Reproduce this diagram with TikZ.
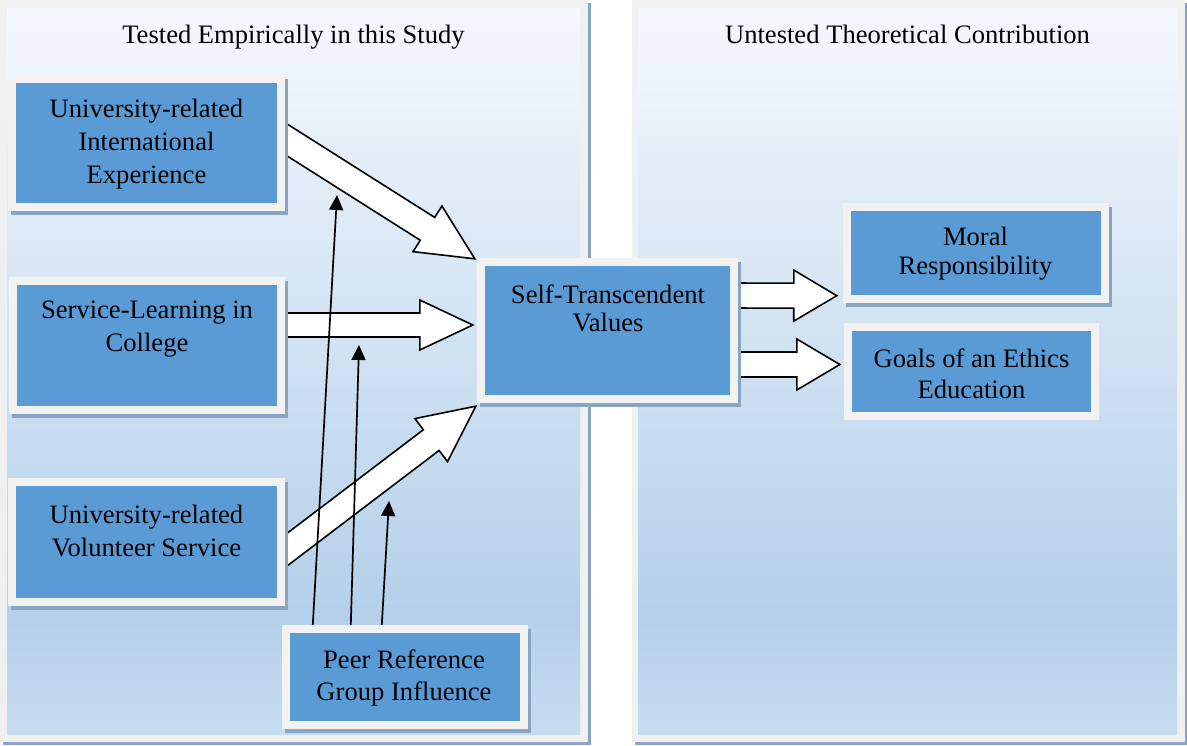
\documentclass[tikz,border=0pt]{standalone}
\usepackage{fontspec}
\setmainfont{Liberation Serif}
\usetikzlibrary{calc,shadows,arrows.meta}
\definecolor{boxblue}{HTML}{5B9BD5}
\definecolor{framegray}{HTML}{F2F2F2}
\definecolor{shadowc}{HTML}{8AA5C2}
\definecolor{panelgray}{HTML}{F0F0F0}
\definecolor{pantop}{HTML}{F5F8FD}
\definecolor{panlow}{HTML}{B4D0EA}
\definecolor{panbot}{HTML}{C7DCF0}
\pgfdeclareverticalshading{panelshade}{100bp}{color(0bp)=(panbot); color(25bp)=(panbot); color(33bp)=(panlow); color(75bp)=(pantop); color(100bp)=(pantop)}
\pgfdeclarelayer{bg}
\pgfdeclarelayer{mid}
\pgfsetlayers{bg,mid,main}
\newcommand\blockarrow[5]{%
  \coordinate (bah) at ($(#2)!#5!(#1)$);
  \draw[blockarr] ($(#1)!#3!90:(#2)$) -- ($(bah)!#3!90:(#2)$) -- ($(bah)!#4!90:(#2)$) -- (#2)
    -- ($(bah)!#4!-90:(#2)$) -- ($(bah)!#3!-90:(#2)$) -- ($(#1)!#3!-90:(#2)$) -- cycle;
}
\begin{document}
\begin{tikzpicture}[x=1pt,y=-1pt,
  font=\fontsize{26.6}{33}\selectfont,
  box/.style={fill=framegray, inner sep=0pt,
    path picture={\fill[boxblue] ([shift={(7.8pt,-7.8pt)}]path picture bounding box.north west) rectangle ([shift={(-7.8pt,7.8pt)}]path picture bounding box.south east);}},
  shadowbox/.style={box, drop shadow={shadow xshift=3pt, shadow yshift=-4pt, fill=shadowc, opacity=1}},
  txt/.style={align=center, inner sep=0pt, text=black},
  blockarr/.style={draw=black, fill=white, line width=1.6pt, line join=miter},
  infl/.style={line width=1.7pt, -{Triangle[length=15pt,width=14pt]}}]
\useasboundingbox (0,0) rectangle (1187,745);

\begin{pgfonlayer}{bg}
  % left panel
  \fill[shadowc] (3,3) rectangle (591,745);
  \fill[panelgray] (0,0) rectangle (588,742);
  \shade[shading=panelshade] (7,8) rectangle (580,734);
  % right panel
  \fill[shadowc] (635,3) rectangle (1187,745);
  \fill[panelgray] (632,0) rectangle (1185,742);
  \shade[shading=panelshade] (638,8) rectangle (1177,734);
\end{pgfonlayer}

\node[anchor=base, inner sep=0pt] (lefttitle) at (293.5,43.5) {Tested Empirically in this Study};
\node[anchor=base, inner sep=0pt] (righttitle) at (907.5,43.5) {Untested Theoretical Contribution};

% boxes
\node[shadowbox, minimum width=277pt, minimum height=136pt] (intl) at (146.5,143) {};
\node[txt] (intlt) at (146.5,144) {University-related\\International\\Experience};

\node[shadowbox, minimum width=276pt, minimum height=137pt] (slc) at (147,345.5) {};
\node[txt] (slct) at (147,329) {Service-Learning in\\College};

\node[shadowbox, minimum width=277pt, minimum height=128pt] (vol) at (146.5,542) {};
\node[txt] (volt) at (146.5,531) {University-related\\Volunteer Service};

\node[shadowbox, minimum width=246pt, minimum height=104pt] (peer) at (405,677) {};
\node[txt, font=\fontsize{26.6}{32}\selectfont] (peert) at (404,677.5) {Peer Reference\\Group Influence};

\node[shadowbox, minimum width=261pt, minimum height=145pt] (self) at (607.5,330.5) {};
\node[txt, font=\fontsize{26.6}{28.5}\selectfont] (selft) at (608,308.5) {Self-Transcendent\\Values};

\node[shadowbox, minimum width=266pt, minimum height=100pt] (moral) at (976,253) {};
\node[txt, font=\fontsize{26.6}{29}\selectfont] (moralt) at (975.5,254) {Moral\\Responsibility};

\node[box, minimum width=255pt, minimum height=97pt] (goals) at (971.5,371.5) {};
\node[txt, font=\fontsize{26.6}{31}\selectfont] (goalst) at (971.5,374) {Goals of an Ethics\\Education};

% block arrows
\coordinate (a1s) at (260,122.8);
\coordinate (a1t) at ($(self.north west)+(-2,1)$);
\coordinate (a2s) at ($(slc.east)+(-20,-20.5)$);
\coordinate (a2t) at ($(self.west)+(-4,-5.5)$);
\coordinate (a3s) at (262,568.7);
\coordinate (a3t) at ($(self.south west)+(-1,3)$);
\coordinate (a4s) at ($(self.east)+(-18,-35)$);
\coordinate (a4t) at ($(moral.south west)+(-6,-7.5)$);
\coordinate (a5s) at ($(self.east)+(-18,34)$);
\coordinate (a5t) at ($(goals.west)+(-4,-7)$);
\begin{pgfonlayer}{mid}
  \blockarrow{a1s}{a1t}{13.5pt}{27pt}{56pt}
  \blockarrow{a2s}{a2t}{12pt}{25pt}{53pt}
  \blockarrow{a3s}{a3t}{13pt}{27pt}{56pt}
  \blockarrow{a4s}{a4t}{12.5pt}{25.5pt}{43pt}
  \blockarrow{a5s}{a5t}{12.5pt}{25.5pt}{43pt}
\end{pgfonlayer}

% moderating arrows from peer influence
\coordinate (m1) at (337,195);
\coordinate (m2) at (359,345);
\coordinate (m3) at (389,501);
\draw[infl] ($(peer.north west)+(31,0)$) -- (m1);
\draw[infl] ($(peer.north west)+(69,0)$) -- (m2);
\draw[infl] ($(peer.north west)+(100,0)$) -- (m3);
\end{tikzpicture}
\end{document}
